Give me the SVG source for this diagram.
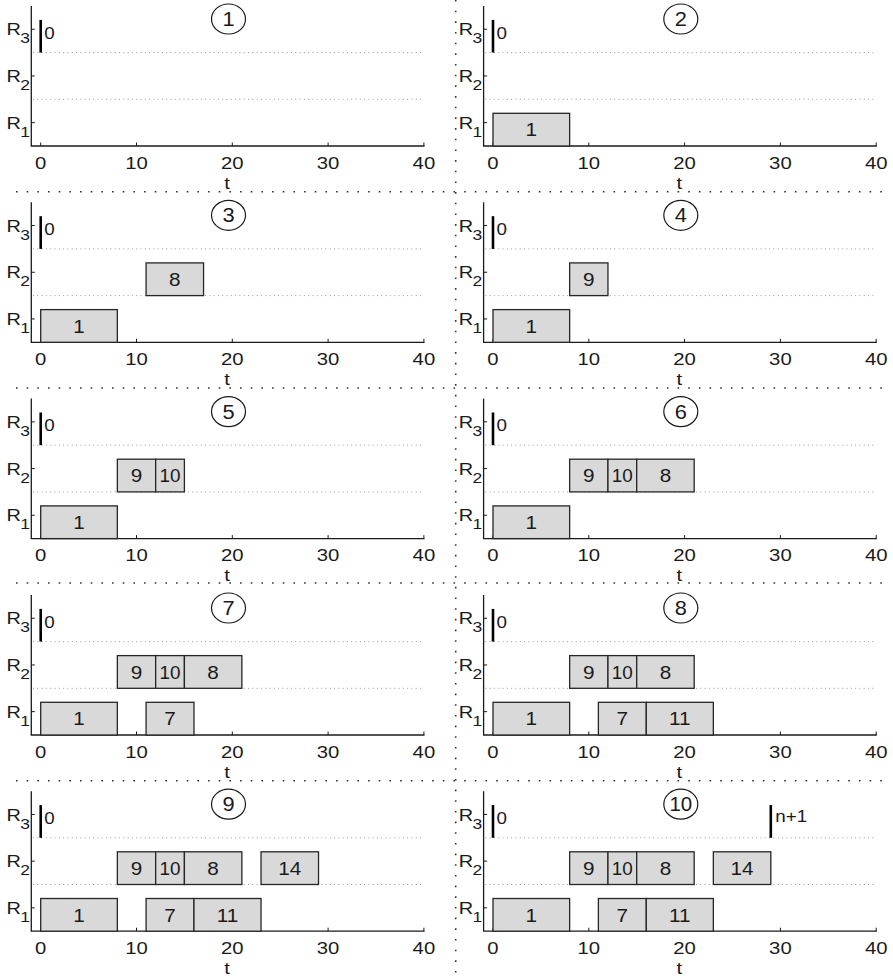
<svg xmlns="http://www.w3.org/2000/svg" xmlns:xlink="http://www.w3.org/1999/xlink" width="893" height="978" viewBox="0 0 893 978">
<style>
text{font-family:"Liberation Sans",Arial,Helvetica,sans-serif;fill:#1a1a1a}
.ax{stroke:#1a1a1a;stroke-width:1.3;fill:none}
.tk{stroke:#1a1a1a;stroke-width:1;fill:none}
.grid{stroke:#9a9a9a;stroke-width:1;stroke-dasharray:1 3.3;fill:none}
.sep{stroke:#333;stroke-width:1.6;stroke-dasharray:1.6 9.07;fill:none}
.tl{font-size:17.2px;text-anchor:middle}
.rl{font-size:17.2px}
.rs{font-size:15.2px}
.mk{stroke:#000;stroke-width:2.6}
.ml{font-size:17.4px}
.b{fill:#d9d9d9;stroke:#262626;stroke-width:1.3}
.bl{font-size:18px;text-anchor:middle}
.cn{fill:none;stroke:#1a1a1a;stroke-width:1.2}
.cl{font-size:19.5px;text-anchor:middle}
</style>
<defs>
<g id="axes">
<line class="grid" x1="33" y1="52.6" x2="424" y2="52.6"/>
<line class="grid" x1="33" y1="99.3" x2="424" y2="99.3"/>
<line class="ax" x1="31.3" y1="6" x2="31.3" y2="146"/>
<line class="ax" x1="30.7" y1="146" x2="424.5" y2="146"/>
<path class="tk" d="M31.3 29.25h3.5M31.3 75.95h3.5M31.3 122.65h3.5M40.7 146v-3.5M136.5 146v-3.5M232.3 146v-3.5M328.1 146v-3.5M423.9 146v-3.5"/>
<text class="tl" transform="matrix(1.18 0 0 1 40.7 168.6)">0</text>
<text class="tl" transform="matrix(1.18 0 0 1 136.5 168.6)">10</text>
<text class="tl" transform="matrix(1.18 0 0 1 232.3 168.6)">20</text>
<text class="tl" transform="matrix(1.18 0 0 1 328.1 168.6)">30</text>
<text class="tl" transform="matrix(1.18 0 0 1 423.9 168.6)">40</text>
<text class="tl" transform="matrix(1.18 0 0 1 227 188.6)">t</text>
<text class="rl" transform="matrix(1.16 0 0 1 6.5 35.3)">R</text><text class="rs" transform="matrix(1.15 0 0 1 20.3 43.3)">3</text>
<text class="rl" transform="matrix(1.16 0 0 1 6.5 82)">R</text><text class="rs" transform="matrix(1.15 0 0 1 20.3 90)">2</text>
<text class="rl" transform="matrix(1.16 0 0 1 6.5 128.7)">R</text><text class="rs" transform="matrix(1.15 0 0 1 20.3 136.7)">1</text>
<line class="mk" x1="40.7" y1="19.9" x2="40.7" y2="52.6"/>
<text class="ml" transform="matrix(1.08 0 0 1 44.3 38.8)">0</text>
</g>
</defs>
<g id="separators">
<line class="sep" x1="455.7" y1="0" x2="455.7" y2="978"/>
<line class="sep" x1="16" y1="191.7" x2="890" y2="191.7"/>
<line class="sep" x1="16" y1="388" x2="890" y2="388"/>
<line class="sep" x1="16" y1="583" x2="890" y2="583"/>
<line class="sep" x1="16" y1="780.7" x2="890" y2="780.7"/>
</g>
<g id="panel1">
<use xlink:href="#axes" href="#axes"/>
<ellipse class="cn" cx="228.5" cy="19" rx="17" ry="15"/><text class="cl" transform="matrix(1.12 0 0 1 228.5 26)">1</text>
</g>
<g id="panel2" transform="translate(452.3,0)">
<use xlink:href="#axes" href="#axes"/>
<ellipse class="cn" cx="228.5" cy="19" rx="17" ry="15"/><text class="cl" transform="matrix(1.12 0 0 1 228.5 26)">2</text>
<rect class="b" x="40.7" y="113.3" width="76.64" height="32.7"/><text class="bl" transform="matrix(1.15 0 0 1 79 136.3)">1</text>
</g>
<g id="panel3" transform="translate(0,196.3)">
<use xlink:href="#axes" href="#axes"/>
<ellipse class="cn" cx="228.5" cy="19" rx="17" ry="15"/><text class="cl" transform="matrix(1.12 0 0 1 228.5 26)">3</text>
<rect class="b" x="40.7" y="113.3" width="76.64" height="32.7"/><text class="bl" transform="matrix(1.15 0 0 1 79 136.3)">1</text>
<rect class="b" x="146.08" y="66.6" width="57.48" height="32.7"/><text class="bl" transform="matrix(1.15 0 0 1 174.8 89.6)">8</text>
</g>
<g id="panel4" transform="translate(452.3,196.3)">
<use xlink:href="#axes" href="#axes"/>
<ellipse class="cn" cx="228.5" cy="19" rx="17" ry="15"/><text class="cl" transform="matrix(1.12 0 0 1 228.5 26)">4</text>
<rect class="b" x="40.7" y="113.3" width="76.64" height="32.7"/><text class="bl" transform="matrix(1.15 0 0 1 79 136.3)">1</text>
<rect class="b" x="117.34" y="66.6" width="38.32" height="32.7"/><text class="bl" transform="matrix(1.15 0 0 1 136.5 89.6)">9</text>
</g>
<g id="panel5" transform="translate(0,392.6)">
<use xlink:href="#axes" href="#axes"/>
<ellipse class="cn" cx="228.5" cy="19" rx="17" ry="15"/><text class="cl" transform="matrix(1.12 0 0 1 228.5 26)">5</text>
<rect class="b" x="40.7" y="113.3" width="76.64" height="32.7"/><text class="bl" transform="matrix(1.15 0 0 1 79 136.3)">1</text>
<rect class="b" x="117.34" y="66.6" width="38.32" height="32.7"/><text class="bl" transform="matrix(1.15 0 0 1 136.5 89.6)">9</text>
<rect class="b" x="155.66" y="66.6" width="28.74" height="32.7"/><text class="bl" transform="matrix(1.05 0 0 1 170 89.6)">10</text>
</g>
<g id="panel6" transform="translate(452.3,392.6)">
<use xlink:href="#axes" href="#axes"/>
<ellipse class="cn" cx="228.5" cy="19" rx="17" ry="15"/><text class="cl" transform="matrix(1.12 0 0 1 228.5 26)">6</text>
<rect class="b" x="40.7" y="113.3" width="76.64" height="32.7"/><text class="bl" transform="matrix(1.15 0 0 1 79 136.3)">1</text>
<rect class="b" x="117.34" y="66.6" width="38.32" height="32.7"/><text class="bl" transform="matrix(1.15 0 0 1 136.5 89.6)">9</text>
<rect class="b" x="155.66" y="66.6" width="28.74" height="32.7"/><text class="bl" transform="matrix(1.05 0 0 1 170 89.6)">10</text>
<rect class="b" x="184.4" y="66.6" width="57.48" height="32.7"/><text class="bl" transform="matrix(1.15 0 0 1 213.1 89.6)">8</text>
</g>
<g id="panel7" transform="translate(0,589)">
<use xlink:href="#axes" href="#axes"/>
<ellipse class="cn" cx="228.5" cy="19" rx="17" ry="15"/><text class="cl" transform="matrix(1.12 0 0 1 228.5 26)">7</text>
<rect class="b" x="40.7" y="113.3" width="76.64" height="32.7"/><text class="bl" transform="matrix(1.15 0 0 1 79 136.3)">1</text>
<rect class="b" x="146.08" y="113.3" width="47.9" height="32.7"/><text class="bl" transform="matrix(1.15 0 0 1 170 136.3)">7</text>
<rect class="b" x="117.34" y="66.6" width="38.32" height="32.7"/><text class="bl" transform="matrix(1.15 0 0 1 136.5 89.6)">9</text>
<rect class="b" x="155.66" y="66.6" width="28.74" height="32.7"/><text class="bl" transform="matrix(1.05 0 0 1 170 89.6)">10</text>
<rect class="b" x="184.4" y="66.6" width="57.48" height="32.7"/><text class="bl" transform="matrix(1.15 0 0 1 213.1 89.6)">8</text>
</g>
<g id="panel8" transform="translate(452.3,589)">
<use xlink:href="#axes" href="#axes"/>
<ellipse class="cn" cx="228.5" cy="19" rx="17" ry="15"/><text class="cl" transform="matrix(1.12 0 0 1 228.5 26)">8</text>
<rect class="b" x="40.7" y="113.3" width="76.64" height="32.7"/><text class="bl" transform="matrix(1.15 0 0 1 79 136.3)">1</text>
<rect class="b" x="146.08" y="113.3" width="47.9" height="32.7"/><text class="bl" transform="matrix(1.15 0 0 1 170 136.3)">7</text>
<rect class="b" x="193.98" y="113.3" width="67.06" height="32.7"/><text class="bl" transform="matrix(1.15 0 0 1 227.5 136.3)">11</text>
<rect class="b" x="117.34" y="66.6" width="38.32" height="32.7"/><text class="bl" transform="matrix(1.15 0 0 1 136.5 89.6)">9</text>
<rect class="b" x="155.66" y="66.6" width="28.74" height="32.7"/><text class="bl" transform="matrix(1.05 0 0 1 170 89.6)">10</text>
<rect class="b" x="184.4" y="66.6" width="57.48" height="32.7"/><text class="bl" transform="matrix(1.15 0 0 1 213.1 89.6)">8</text>
</g>
<g id="panel9" transform="translate(0,785.2)">
<use xlink:href="#axes" href="#axes"/>
<ellipse class="cn" cx="228.5" cy="19" rx="17" ry="15"/><text class="cl" transform="matrix(1.12 0 0 1 228.5 26)">9</text>
<rect class="b" x="40.7" y="113.3" width="76.64" height="32.7"/><text class="bl" transform="matrix(1.15 0 0 1 79 136.3)">1</text>
<rect class="b" x="146.08" y="113.3" width="47.9" height="32.7"/><text class="bl" transform="matrix(1.15 0 0 1 170 136.3)">7</text>
<rect class="b" x="193.98" y="113.3" width="67.06" height="32.7"/><text class="bl" transform="matrix(1.15 0 0 1 227.5 136.3)">11</text>
<rect class="b" x="117.34" y="66.6" width="38.32" height="32.7"/><text class="bl" transform="matrix(1.15 0 0 1 136.5 89.6)">9</text>
<rect class="b" x="155.66" y="66.6" width="28.74" height="32.7"/><text class="bl" transform="matrix(1.05 0 0 1 170 89.6)">10</text>
<rect class="b" x="184.4" y="66.6" width="57.48" height="32.7"/><text class="bl" transform="matrix(1.15 0 0 1 213.1 89.6)">8</text>
<rect class="b" x="261.04" y="66.6" width="57.48" height="32.7"/><text class="bl" transform="matrix(1.15 0 0 1 289.8 89.6)">14</text>
</g>
<g id="panel10" transform="translate(452.3,785.2)">
<use xlink:href="#axes" href="#axes"/>
<ellipse class="cn" cx="228.5" cy="19" rx="17" ry="15"/><text class="cl" transform="matrix(1.05 0 0 1 228.5 26)">10</text>
<rect class="b" x="40.7" y="113.3" width="76.64" height="32.7"/><text class="bl" transform="matrix(1.15 0 0 1 79 136.3)">1</text>
<rect class="b" x="146.08" y="113.3" width="47.9" height="32.7"/><text class="bl" transform="matrix(1.15 0 0 1 170 136.3)">7</text>
<rect class="b" x="193.98" y="113.3" width="67.06" height="32.7"/><text class="bl" transform="matrix(1.15 0 0 1 227.5 136.3)">11</text>
<rect class="b" x="117.34" y="66.6" width="38.32" height="32.7"/><text class="bl" transform="matrix(1.15 0 0 1 136.5 89.6)">9</text>
<rect class="b" x="155.66" y="66.6" width="28.74" height="32.7"/><text class="bl" transform="matrix(1.05 0 0 1 170 89.6)">10</text>
<rect class="b" x="184.4" y="66.6" width="57.48" height="32.7"/><text class="bl" transform="matrix(1.15 0 0 1 213.1 89.6)">8</text>
<rect class="b" x="261.04" y="66.6" width="57.48" height="32.7"/><text class="bl" transform="matrix(1.15 0 0 1 289.8 89.6)">14</text>
<line class="mk" x1="318.5" y1="19.9" x2="318.5" y2="52.6"/>
<text class="ml" transform="matrix(1.08 0 0 1 323 36.4)">n+1</text>
</g>
</svg>
